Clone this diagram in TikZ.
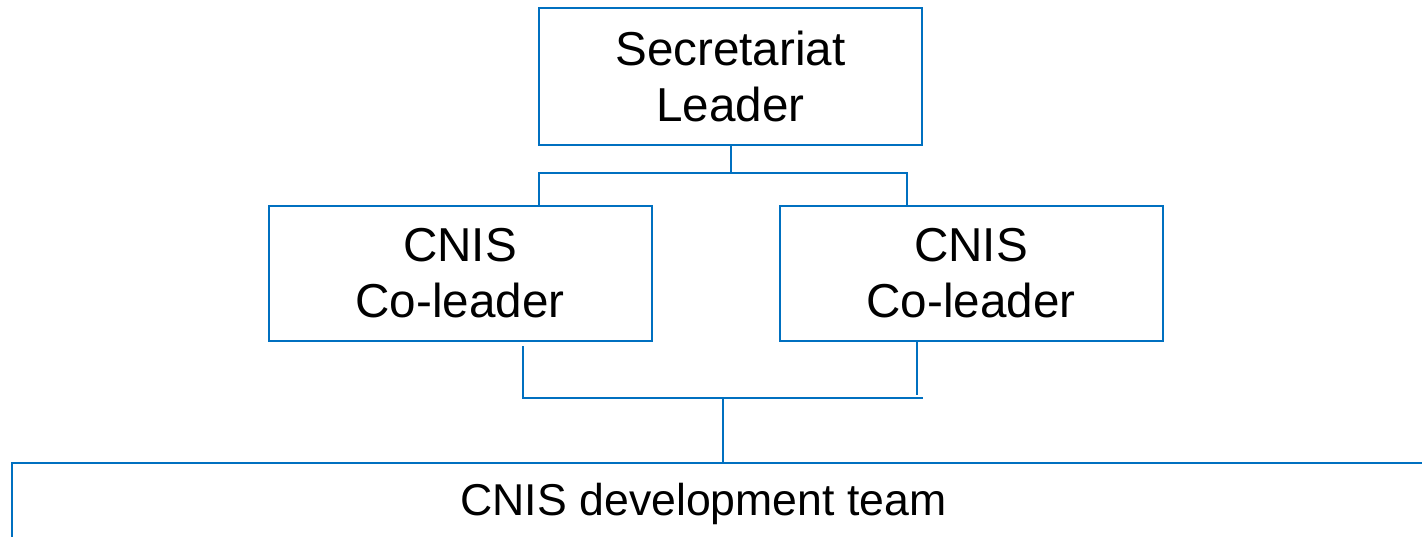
\documentclass[tikz,border=0pt]{standalone}
\usepackage{fontspec}
\setmainfont{Liberation Sans}
\definecolor{orgblue}{RGB}{0,112,192}
\tikzstyle{unit} = [draw=orgblue, line width=1pt, rectangle, align=center, text=black, font=\fontsize{23.8}{28}\selectfont, minimum width=191.5pt, minimum height=67.5pt]
\tikzstyle{teambox} = [draw=orgblue, line width=1pt, rectangle, anchor=north west, minimum width=720pt, minimum height=60pt]
\tikzstyle{line} = [draw=orgblue, line width=1pt]

\begin{document}
\begin{tikzpicture}[x=0.5pt, y=-0.5pt]
    \clip (0,0) rectangle (1422,536);

    % Place nodes
    \node [unit, minimum height=68.5pt] (leader) at (730.5,76.5) {Secretariat\\Leader};
    \node [unit] (coleadA) at (460,273.5) {CNIS\\Co-leader};
    \node [unit] (coleadB) at (971,273.5) {CNIS\\Co-leader};
    \node [teambox] (team) at (11,462) {};
    \node [anchor=base, font=\fontsize{22.3}{26}\selectfont] (teamlabel) at (703.5,515) {CNIS development team};

    % Helper coordinates for the elbows
    \coordinate (split) at (731,173);
    \coordinate (splitA) at (539,173);
    \coordinate (splitB) at (907,173);
    \coordinate (joinA) at (523,398);
    \coordinate (joinB) at (917,398);
    \coordinate (joinEnd) at (923,398);
    \coordinate (merge) at (723,398);

    % Draw edges
    \path [line] (leader.south -| split) -- (split);
    \path [line] (coleadA.north -| splitA) -- (splitA) -- (splitB) -- (coleadB.north -| splitB);
    \path [line] ([yshift=-2pt]coleadA.south -| joinA) -- (joinA) -- (joinEnd);
    \path [line] (coleadB.south -| joinB) -- ([yshift=1.5pt]joinB);
    \path [line] (merge) -- (team.north -| merge);
\end{tikzpicture}
\end{document}
